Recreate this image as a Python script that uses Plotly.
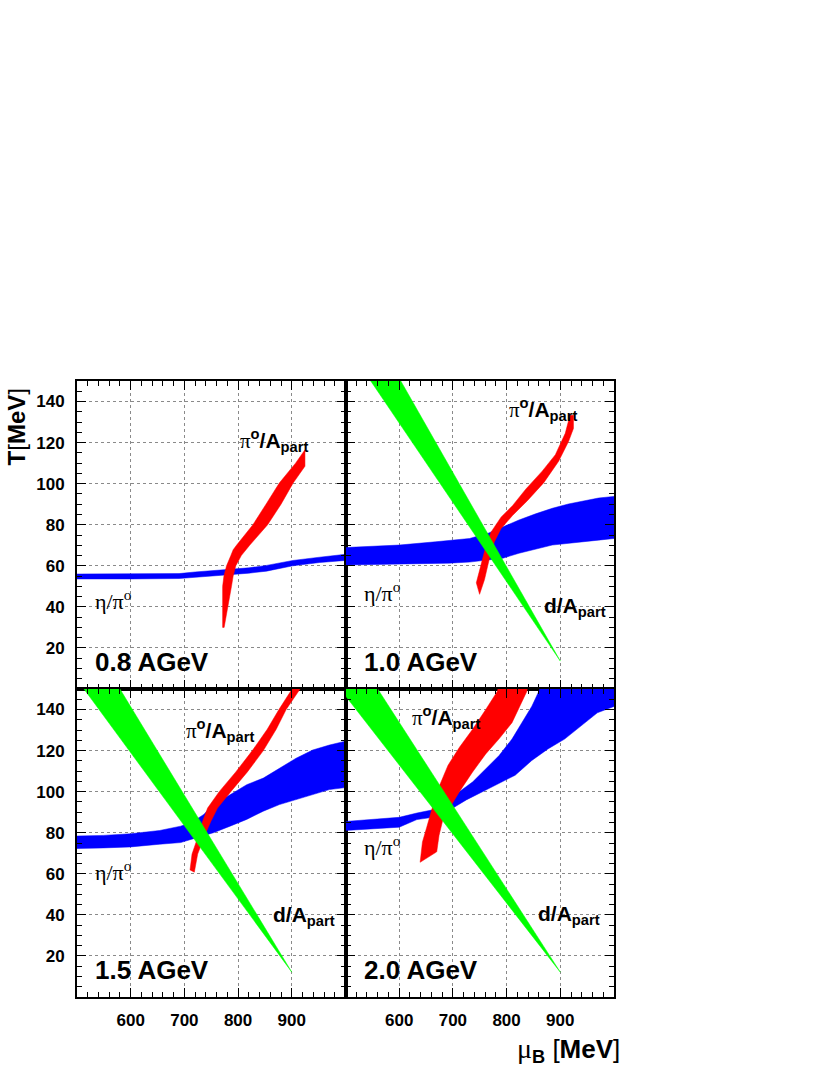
import plotly.graph_objects as go
from plotly.subplots import make_subplots

# ---------------- data ----------------
energies = ["0.8 AGeV", "1.0 AGeV", "1.5 AGeV", "2.0 AGeV"]

# eta/pi0 bands (blue): upper edge and lower edge, mu_B [MeV] vs T [MeV]
eta08_up_x = [500, 600, 690, 720, 778, 820, 853, 902, 952, 1000]
eta08_up_t = [56.0, 56.0, 56.2, 57.0, 58.0, 59.0, 60.2, 62.6, 64.2, 65.6]
eta08_lo_x = [500, 600, 690, 720, 778, 820, 853, 902, 952, 1000]
eta08_lo_t = [53.6, 53.6, 53.8, 54.4, 55.6, 56.4, 57.4, 60.0, 61.6, 62.6]

eta10_up_x = [500, 600, 668, 731, 767, 793, 823, 854, 885, 915, 971, 1000]
eta10_up_t = [68.9, 70.1, 71.7, 73.3, 76.0, 78.9, 82.3, 85.3, 88.0, 90.1, 93.0, 93.8]
eta10_lo_x = [500, 693, 731, 793, 823, 885, 940, 971, 1000]
eta10_lo_t = [60.4, 61.3, 61.8, 63.7, 66.1, 70.1, 71.7, 72.5, 73.3]

eta15_up_x = [500, 549, 600, 654, 693, 717, 736, 754, 785, 816, 847, 877, 908, 939, 970, 1000]
eta15_up_t = [78.4, 78.7, 79.5, 81.1, 83.2, 85.6, 88.9, 93.7, 98.5, 103.4, 106.6, 111.5, 116.3, 120.3, 122.7, 124.6]
eta15_lo_x = [500, 549, 600, 654, 693, 723, 754, 785, 816, 847, 877, 908, 939, 970, 1000]
eta15_lo_t = [72.3, 72.6, 73.1, 74.4, 75.2, 77.6, 80.0, 83.2, 86.5, 90.5, 93.7, 96.1, 98.5, 101.0, 102.0]

eta20_up_x = [500, 600, 633, 663, 694, 712, 737, 761, 786, 810, 828, 847, 862, 880, 1000]
eta20_up_t = [85.5, 87.5, 89.6, 91.2, 96.0, 100.0, 104.8, 111.2, 117.6, 125.6, 133.6, 141.6, 150.0, 158.0, 165.0]
eta20_lo_x = [500, 600, 633, 676, 700, 725, 755, 786, 816, 847, 877, 908, 939, 969, 1000]
eta20_lo_t = [81.1, 82.7, 86.4, 88.0, 92.0, 96.0, 100.0, 104.0, 108.0, 115.2, 120.8, 125.6, 132.0, 138.4, 141.5]

# pi0/A_part bands (red): left edge and right edge
pi08_l_x = [771.2, 771.2, 773.6, 778.5, 786.5, 790.8, 797.0, 827.6, 852.0, 876.7, 907.0, 924.5]
pi08_l_t = [30.0, 50.0, 55.0, 60.0, 65.0, 67.8, 70.0, 80.0, 90.0, 100.3, 110.0, 116.5]
pi08_r_x = [774.0, 777.0, 784.0, 787.7, 790.8, 795.7, 806.0, 821.5, 855.0, 880.0, 902.5, 924.5]
pi08_r_t = [30.0, 35.0, 45.0, 50.0, 55.0, 60.0, 65.0, 70.0, 80.0, 90.0, 100.3, 108.5]

pi10_l_x = [743.6, 752.8, 762.0, 771.2, 789.6, 811.0, 835.6, 866.3, 890.8, 909.2, 915.3, 918.0]
pi10_l_t = [51.7, 60.5, 70.1, 76.5, 83.7, 89.3, 97.3, 106.1, 114.1, 124.5, 131.7, 133.3]
pi10_r_x = [749.7, 758.9, 768.1, 777.3, 789.6, 811.0, 838.7, 869.3, 896.9, 915.3, 924.5, 924.5]
pi10_r_t = [46.1, 53.3, 63.7, 71.7, 78.1, 84.5, 91.7, 100.5, 110.9, 120.5, 126.9, 133.3]

pi15_l_x = [710.5, 714.2, 727.8, 734.0, 743.2, 764.8, 795.7, 826.5, 854.3, 876.0, 903.0]
pi15_l_t = [61.9, 69.6, 80.0, 85.6, 92.0, 100.0, 109.6, 120.0, 130.4, 140.0, 151.0]
pi15_r_x = [718.5, 724.7, 740.0, 749.4, 761.7, 786.4, 817.3, 847.0, 871.0, 889.5, 918.0]
pi15_r_t = [60.8, 69.6, 80.0, 85.6, 92.0, 100.0, 109.6, 120.0, 130.4, 140.0, 151.0]

pi20_l_x = [639, 643.3, 651, 663.3, 675.5, 690.8, 712.2, 736.7, 761.2, 782.6, 786]
pi20_l_t = [65.6, 75.5, 82.4, 93.6, 103.2, 112.8, 121.6, 130.4, 140.0, 148.8, 152.0]
pi20_r_x = [669.9, 674.2, 681.6, 693.9, 712.2, 736.7, 761.2, 785.6, 810.1, 837.6, 840]
pi20_r_t = [70.7, 78.7, 86.7, 92.0, 100.0, 109.6, 118.4, 125.6, 133.6, 148.8, 152.0]

# d/A_part bands (green): top-left, top-right, tip
d10_x = [547, 603, 900]
d10_t = [150.0, 150.0, 13.6]
d15_x = [513, 580, 900]
d15_t = [150.0, 150.0, 12.1]
d20_x = [490, 560, 900]
d20_t = [150.0, 150.0, 12.1]

x_ticks = [600, 700, 800, 900]
x_ticktext = ["600", "700", "800", "900"]
y_ticks = [20, 40, 60, 80, 100, 120, 140]
y_ticktext = ["20", "40", "60", "80", "100", "120", "140"]

# ---------------- figure ----------------
BLUE, RED, GREEN = "#0000ff", "#ff0000", "#00ff00"
SANS = "Liberation Sans, Arial, sans-serif"
SERIF = "Liberation Serif, Times New Roman, serif"


def band(xa, ya, xb, yb):
    xs = list(xa) + list(xb)[::-1] + [xa[0]]
    ys = list(ya) + list(yb)[::-1] + [ya[0]]
    return xs, ys


def poly(fig, xs, ys, color, r, c):
    fig.add_trace(go.Scatter(x=xs, y=ys, mode="lines", fill="toself",
                             fillcolor=color, line=dict(color=color, width=0.5),
                             hoverinfo="skip", showlegend=False), row=r, col=c)


fig = make_subplots(rows=2, cols=2, horizontal_spacing=0, vertical_spacing=0)

panels = [
    (1, 1, (eta08_up_x, eta08_up_t, eta08_lo_x, eta08_lo_t),
     (pi08_l_x, pi08_l_t, pi08_r_x, pi08_r_t), None),
    (1, 2, (eta10_up_x, eta10_up_t, eta10_lo_x, eta10_lo_t),
     (pi10_l_x, pi10_l_t, pi10_r_x, pi10_r_t), (d10_x, d10_t)),
    (2, 1, (eta15_up_x, eta15_up_t, eta15_lo_x, eta15_lo_t),
     (pi15_l_x, pi15_l_t, pi15_r_x, pi15_r_t), (d15_x, d15_t)),
    (2, 2, (eta20_up_x, eta20_up_t, eta20_lo_x, eta20_lo_t),
     (pi20_l_x, pi20_l_t, pi20_r_x, pi20_r_t), (d20_x, d20_t)),
]

for r, c, eta, pi, d in panels:
    xs, ys = band(*eta)
    poly(fig, xs, ys, BLUE, r, c)
    xs, ys = band(*pi)
    poly(fig, xs, ys, RED, r, c)
    if d is not None:
        poly(fig, list(d[0]) + [d[0][0]], list(d[1]) + [d[1][0]], GREEN, r, c)

axis_common = dict(
    showline=True, linecolor="black", linewidth=2, mirror="allticks",
    ticks="inside", ticklen=9, tickwidth=1, tickcolor="black",
    showgrid=True, gridcolor="#8a8a8a", griddash="dot", gridwidth=1,
    zeroline=False,
    tickfont=dict(family=SANS, size=17, color="black", weight="bold"),
)

for r in (1, 2):
    for c in (1, 2):
        fig.update_xaxes(range=[500, 1000], tickmode="array", tickvals=x_ticks,
                         ticktext=x_ticktext, showticklabels=(r == 2),
                         ticklabelstandoff=7,
                         minor=dict(ticks="inside", ticklen=5, tickcolor="black",
                                    tickvals=list(range(500, 1001, 20)), showgrid=False),
                         row=r, col=c, **axis_common)
        fig.update_yaxes(range=[0, 150], tickmode="array", tickvals=y_ticks,
                         ticktext=y_ticktext, showticklabels=(c == 1),
                         ticklabelstandoff=7,
                         minor=dict(ticks="inside", ticklen=5, tickcolor="black",
                                    tickvals=list(range(0, 151, 5)), showgrid=False),
                         row=r, col=c, **axis_common)

# panel annotations
axref = {(1, 1): ("x", "y"), (1, 2): ("x2", "y2"), (2, 1): ("x3", "y3"), (2, 2): ("x4", "y4")}

pi_label = ('<span style="font-family:Liberation Serif;font-weight:normal">π</span>'
            '<sup>o</sup>/A<sub>part</sub>')
eta_label = 'η/π<sup>o</sup>'
d_label = 'd/A<sub>part</sub>'

pi_pos = {(1, 1): (799, 121), (1, 2): (800, 136), (2, 1): (700, 130), (2, 2): (621, 136)}
eta_pos = {(1, 1): (530, 43.5), (1, 2): (530, 47), (2, 1): (530, 61.5), (2, 2): (530, 73.5)}
d_pos = {(1, 2): (866, 40), (2, 1): (862, 39.5), (2, 2): (854, 40)}
energy_cells = [(1, 1), (1, 2), (2, 1), (2, 2)]

for key, (x, y) in pi_pos.items():
    xr, yr = axref[key]
    fig.add_annotation(x=x, y=y, xref=xr, yref=yr, text=pi_label, showarrow=False,
                       xanchor="left", yanchor="middle",
                       font=dict(family=SANS, size=21, color="black", weight="bold"))
for key, (x, y) in eta_pos.items():
    xr, yr = axref[key]
    fig.add_annotation(x=x, y=y, xref=xr, yref=yr, text=eta_label, showarrow=False,
                       xanchor="left", yanchor="middle",
                       font=dict(family=SERIF, size=22, color="black"))
for key, (x, y) in d_pos.items():
    xr, yr = axref[key]
    fig.add_annotation(x=x, y=y, xref=xr, yref=yr, text=d_label, showarrow=False,
                       xanchor="left", yanchor="middle",
                       font=dict(family=SANS, size=21, color="black", weight="bold"))
for key, label in zip(energy_cells, energies):
    xr, yr = axref[key]
    fig.add_annotation(x=530, y=13.3, xref=xr, yref=yr, text=label, showarrow=False,
                       xanchor="left", yanchor="middle",
                       font=dict(family=SANS, size=26, color="black", weight="bold"))

# axis titles
fig.add_annotation(x=-0.112, y=0.926, xref="paper", yref="paper",
                   text="<b>T</b>[<b>MeV</b>]", textangle=-90, showarrow=False,
                   xanchor="center", yanchor="middle",
                   font=dict(family=SANS, size=24, color="black"))
fig.add_annotation(x=1.015, y=-0.086, xref="paper", yref="paper",
                   text='<span style="font-family:Liberation Serif;font-size:28px">μ</span>'
                        '<sub><b>B</b></sub> [<b>MeV</b>]',
                   showarrow=False, xanchor="right", yanchor="middle",
                   font=dict(family=SANS, size=26, color="black"))

fig.update_layout(width=830, height=1075, margin=dict(l=77, r=216, t=381, b=78),
                  paper_bgcolor="white", plot_bgcolor="white", showlegend=False)

fig.write_html("out.html", config={"displayModeBar": False, "staticPlot": True},
               post_script="document.body.style.margin='0';document.body.style.overflow='hidden';")
